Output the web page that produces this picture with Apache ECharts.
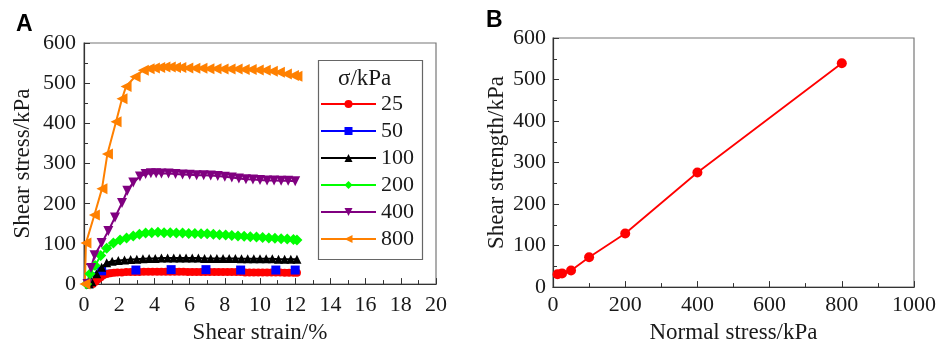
<!DOCTYPE html>
<html>
<head>
<meta charset="utf-8">
<script src="https://cdn.jsdelivr.net/npm/echarts@6/dist/echarts.min.js"></script>
<style>
html,body{margin:0;padding:0;background:#fff}
#c{width:941px;height:349px}
</style>
</head>
<body>
<div id="c"></div>
<script>
// Panel A: stress-strain curves for each normal stress level (kPa)
const levels = ['25', '50', '100', '200', '400', '800'];

const strain25 = [0.5,0.65,0.8,0.95,1.1,1.3,1.5,1.7,1.9,2.15,2.4,2.65,2.9,3.15,3.4,3.65,3.9,4.15,4.4,4.65,4.9,5.15,5.4,5.65,5.9,6.15,6.4,6.65,6.9,7.15,7.4,7.65,7.9,8.15,8.4,8.65,8.9,9.15,9.4,9.65,9.9,10.15,10.4,10.65,10.9,11.15,11.4,11.65,11.9,12.1];
const stress25 = [0,6,12,17,22,25,27,28,29,29,30,30,30,30,31,31,31,31,31,31,31,31,31,31,30,30,30,30,30,30,30,30,30,30,30,30,30,29,29,29,29,29,29,29,29,29,28,28,28,28];

const strain50 = [0.2,0.4,0.7,1.0,2.95,4.95,6.93,8.9,10.9,12.0];
const stress50 = [0,18,30,33,35,36,36,35,35,35];
const hidden50 = 3; // leading points drawn without markers

const strain100 = [0.3,0.44,0.72,1.0,1.29,1.6,1.95,2.3,2.65,3.0,3.35,3.7,4.05,4.4,4.75,5.1,5.45,5.8,6.15,6.5,6.85,7.2,7.55,7.9,8.25,8.6,8.95,9.3,9.65,10.0,10.35,10.7,11.05,11.4,11.75,12.1];
const stress100 = [0,6,26,42,53,57,59,60,61,62,63,64,64,65,65,65,65,65,65,65,64,64,64,64,64,64,63,63,63,63,63,63,62,62,62,62];

const strain200 = [0.15,0.34,0.63,0.95,1.29,1.67,2.05,2.42,2.8,3.15,3.5,3.85,4.2,4.55,4.9,5.25,5.6,5.95,6.3,6.65,7.0,7.35,7.7,8.05,8.4,8.75,9.1,9.45,9.8,10.15,10.5,10.85,11.2,11.55,11.9,12.1];
const stress200 = [0,26,46,71,89,102,110,115,120,124,127,128,129,128,128,127,127,126,126,125,125,124,123,122,121,120,119,118,117,116,115,114,113,112,111,110];

const strain400 = [0.2,0.4,0.6,1.0,1.38,1.76,2.16,2.46,2.8,3.18,3.5,3.8,4.1,4.4,4.8,5.2,5.6,6.0,6.4,6.8,7.2,7.6,8.0,8.4,8.8,9.2,9.6,10.0,10.4,10.8,11.2,11.6,12.0];
const stress400 = [0,40,72,102,132,166,202,232,253,268,274,276,276,275,275,274,273,272,271,271,270,269,267,265,263,261,260,259,258,258,257,257,256];

const strain800 = [0.05,0.11,0.59,1.02,1.33,1.82,2.16,2.39,2.9,3.37,3.7,4.0,4.3,4.6,4.9,5.2,5.5,5.9,6.3,6.7,7.1,7.5,7.9,8.3,8.7,9.1,9.5,9.9,10.3,10.7,11.1,11.5,11.9,12.1];
const stress800 = [0,102,172,237,324,404,461,492,516,532,536,538,539,540,540,539,539,538,537,537,536,536,535,535,535,534,534,533,532,530,527,523,519,517];

// Panel B: shear strength against normal stress
const normalStress = [12.5, 25, 50, 100, 200, 400, 800];
const shearStrength = [31, 33, 40, 72, 129, 276, 539];

// Axis tick settings
const ticksA = { xMin: 0, xMax: 20, xStep: 2, yMin: 0, yMax: 600, yStep: 100 };
const ticksB = { xMin: 0, xMax: 1000, xStep: 200, yMin: 0, yMax: 600, yStep: 100 };

const serif = '"Liberation Serif", "Times New Roman", serif';
const axisDark = '#333';
const textDark = '#1a1a1a';

function pairs(xs, ys) { return xs.map((x, i) => [x, ys[i]]); }

function valueAxis(gridIndex, t, key, name, nameGap, labelMargin) {
  return {
    type: 'value', gridIndex,
    min: t[key + 'Min'], max: t[key + 'Max'], interval: t[key + 'Step'],
    name, nameLocation: 'middle', nameGap,
    nameTextStyle: { fontFamily: serif, fontSize: 23, color: textDark },
    axisLine: { show: true, onZero: false, lineStyle: { color: axisDark, width: 1.2 } },
    axisTick: { show: true, inside: true, length: 6, lineStyle: { color: axisDark } },
    minorTick: { show: true, splitNumber: 2, length: 4, lineStyle: { color: axisDark } },
    axisLabel: { fontFamily: serif, fontSize: 22, color: textDark, margin: labelMargin,
      formatter: v => String(v) },
    splitLine: { show: false }
  };
}

const styles = [
  { color: '#ff0000', symbol: 'circle', size: 8, rot: 0 },
  { color: '#0000ff', symbol: 'rect', size: 9, rot: 0 },
  { color: '#000000', symbol: 'triangle', size: 9, rot: 0 },
  { color: '#00ff00', symbol: 'diamond', size: 11, rot: 0 },
  { color: '#800080', symbol: 'triangle', size: 10, rot: 180 },
  { color: '#ff8000', symbol: 'triangle', size: 11, rot: 90 }
];

const curveData = [
  pairs(strain25, stress25),
  pairs(strain50, stress50).map((p, i) => i < hidden50 ? { value: p, symbol: 'none' } : p),
  pairs(strain100, stress100),
  pairs(strain200, stress200),
  pairs(strain400, stress400),
  pairs(strain800, stress800)
];

const seriesA = levels.map((name, i) => ({
  name, type: 'line', xAxisIndex: 0, yAxisIndex: 0,
  data: curveData[i],
  symbol: styles[i].symbol, symbolSize: styles[i].size, symbolRotate: styles[i].rot,
  showAllSymbol: true, smooth: false, animation: false,
  lineStyle: { color: styles[i].color, width: 2 },
  itemStyle: { color: styles[i].color }
}));

const seriesB = {
  name: 'strength', type: 'line', xAxisIndex: 1, yAxisIndex: 1,
  data: pairs(normalStress, shearStrength),
  symbol: 'circle', symbolSize: 10, animation: false,
  lineStyle: { color: '#ff0000', width: 1.8 },
  itemStyle: { color: '#ff0000' }
};

const chart = echarts.init(document.getElementById('c'), null, { renderer: 'canvas' });
chart.setOption({
  backgroundColor: '#ffffff',
  animation: false,
  grid: [
    { left: 84, top: 43, width: 352, height: 246, show: true, borderColor: '#777', borderWidth: 1.2, backgroundColor: 'transparent' },
    { left: 553, top: 38, width: 361, height: 262, show: true, borderColor: '#777', borderWidth: 1.2, backgroundColor: 'transparent' }
  ],
  xAxis: [
    valueAxis(0, ticksA, 'x', 'Shear strain/%', 32, 10),
    valueAxis(1, ticksB, 'x', 'Normal stress/kPa', 26, 7)
  ],
  yAxis: [
    valueAxis(0, ticksA, 'y', 'Shear stress/kPa', 50, 8),
    valueAxis(1, ticksB, 'y', 'Shear strength/kPa', 45, 7)
  ],
  legend: {
    data: levels,
    orient: 'vertical',
    left: 320, top: 93,
    itemWidth: 55, itemHeight: 10, itemGap: 5,
    padding: 0,
    textStyle: { fontFamily: serif, fontSize: 22, color: textDark },
    selectedMode: false
  },
  graphic: [
    { type: 'rect', left: 316, top: 58, shape: { width: 104, height: 199 },
      style: { fill: 'none', stroke: '#666', lineWidth: 1.2 }, z: 10 },
    { type: 'text', left: 338, top: 67, style: { text: 'σ/kPa', font: '23px ' + serif, fill: textDark }, z: 10 },
    { type: 'text', left: 16, top: 13, style: { text: 'A', font: 'bold 23px "Liberation Sans", Arial, sans-serif', fill: '#000' } },
    { type: 'text', left: 486, top: 9, style: { text: 'B', font: 'bold 23px "Liberation Sans", Arial, sans-serif', fill: '#000' } }
  ],
  series: seriesA.concat([seriesB])
});
</script>
</body>
</html>
